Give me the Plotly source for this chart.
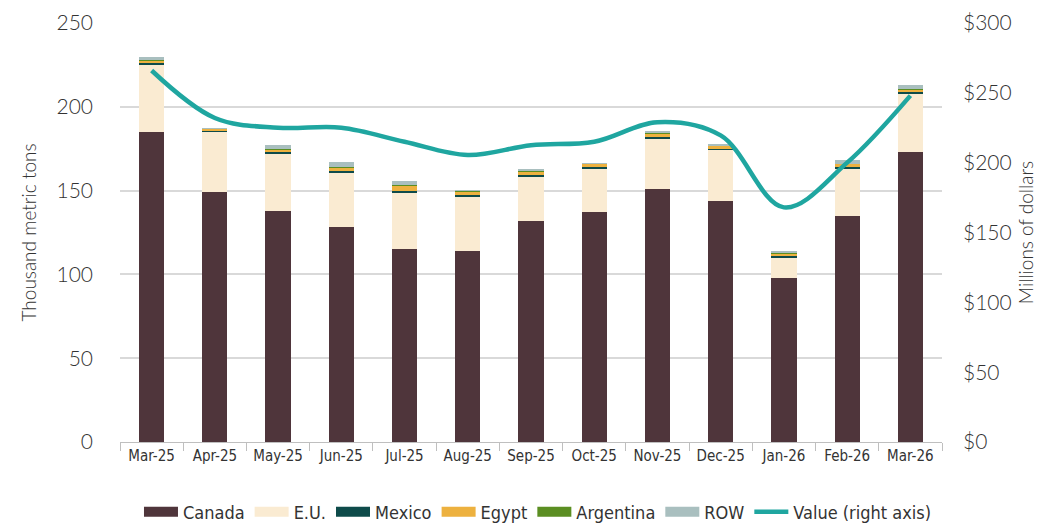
import plotly.graph_objects as go

months = ["Mar-25", "Apr-25", "May-25", "Jun-25", "Jul-25", "Aug-25", "Sep-25",
          "Oct-25", "Nov-25", "Dec-25", "Jan-26", "Feb-26", "Mar-26"]
canada = [185, 149, 138, 128, 115, 114, 132, 137, 151, 144, 98, 135, 173]
eu = [40.4, 36, 34, 32.7, 34, 32, 26, 26, 30, 30.8, 12, 27.9, 34.6]
mexico = [1.0, 0.8, 1.0, 1.2, 1.0, 1.2, 1.2, 1.2, 1.2, 0.3, 1.0, 1.0, 1.2]
egypt = [1.2, 1.0, 1.8, 2.0, 3.0, 2.0, 2.0, 2.0, 2.0, 2.0, 1.5, 2.0, 1.8]
argentina = [0.2, 0.0, 0.2, 0.2, 0.5, 0.6, 0.6, 0.0, 0.2, 0.0, 0.2, 0.2, 0.2]
row = [2.0, 0.4, 2.4, 3.2, 2.5, 0.4, 0.6, 0.2, 1.0, 1.0, 1.5, 2.2, 2.0]
value = [266, 232, 225, 225, 215, 205.5, 212.5, 215, 229, 219.5, 168, 200, 248]

series = [
    ("Canada", canada, "#4F353B"),
    ("E.U.", eu, "#FAEBD2"),
    ("Mexico", mexico, "#0E4B4A"),
    ("Egypt", egypt, "#EDB13F"),
    ("Argentina", argentina, "#5B8E22"),
    ("ROW", row, "#A9BFBF"),
]

fig = go.Figure()
for name, vals, col in series:
    fig.add_trace(go.Bar(x=months, y=vals, name=name, marker_color=col,
                         marker_line_width=0, width=0.4, legendgroup=name,
                         showlegend=False))
    # legend swatch: wide rectangle like the reference
    fig.add_trace(go.Scatter(x=[None], y=[None], name=name, mode="lines",
                             legendgroup=name, line=dict(color=col, width=13)))

fig.add_trace(go.Scatter(x=months, y=value, name="Value (right axis)", yaxis="y2",
                         mode="lines", line=dict(color="#1FA6A0", width=4.5,
                                                 shape="spline", smoothing=1.0)))

light = "Lato, Open Sans, sans-serif"
tick_font = dict(family=light, size=21, color="#333333", weight=300)
narrow = "DejaVu Sans Condensed, Liberation Sans Narrow, sans-serif"

fig.update_layout(
    barmode="stack",
    width=1060, height=540,
    margin=dict(l=112, r=126, t=15, b=106),
    plot_bgcolor="white", paper_bgcolor="white",
    xaxis=dict(type="category", automargin=False, showgrid=False, showline=True,
               linecolor="#BFBFBF", linewidth=1, ticks="outside", tickson="boundaries",
               tickcolor="#BFBFBF", ticklen=8,
               tickfont=dict(family=narrow, size=15, color="#333333")),
    yaxis=dict(range=[0, 250], dtick=50, automargin=False, showgrid=True,
               gridcolor="#D9D9D9", gridwidth=1.5, zeroline=False, showline=False,
               tickfont=tick_font, ticklabelstandoff=26,
               title=dict(text="Thousand metric tons", standoff=14,
                          font=dict(family=light, size=19, color="#333333", weight=300))),
    yaxis2=dict(range=[0, 300], dtick=50, automargin=False, overlaying="y", side="right",
                showgrid=False, zeroline=False, showline=False, tickprefix="$",
                tickfont=tick_font, ticklabelstandoff=20,
                title=dict(text="Millions of dollars", standoff=8,
                           font=dict(family=light, size=19, color="#333333", weight=300))),
    legend=dict(orientation="h", x=0.5085, xanchor="center",
                y=-0.167, yanchor="middle",
                font=dict(family=narrow, size=18, color="#333333"), traceorder="normal",
                itemwidth=34, tracegroupgap=0),
    showlegend=True,
)

fig.write_html("out.html")
